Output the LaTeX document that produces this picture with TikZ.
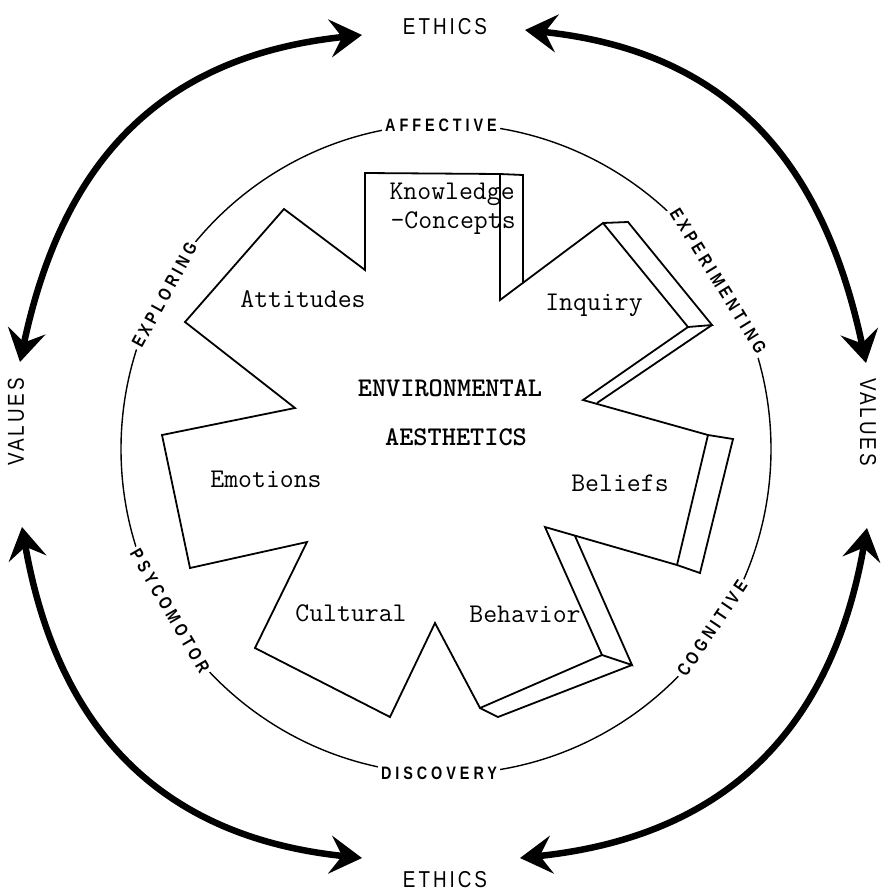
\documentclass[tikz,border=0pt]{standalone}
\usepackage{fontspec}
\newfontfamily\ringfont[FakeStretch=0.8, LetterSpace=22]{Liberation Sans}
\newfontfamily\edgefont[FakeStretch=0.82, LetterSpace=13]{Liberation Sans}
\usetikzlibrary{arrows.meta,calc}

\begin{document}
\begin{tikzpicture}[
    x=1pt, y=-1pt,
    ringlabel/.style={
        fill=white,
        inner sep=3pt,
        font=\fontsize{18}{20}\selectfont\ringfont\bfseries,
        },
    edgelabel/.style={
        font=\fontsize{23}{26}\selectfont\edgefont,
        },
    facet/.style={
        anchor=base,
        font=\fontsize{27}{30}\selectfont\ttfamily,
        },
    centre/.style={
        anchor=base,
        font=\fontsize{27}{30}\selectfont\ttfamily\bfseries,
        },
    bigarrow/.style={
        line width=6.5pt,
        >={Stealth[length=32pt,width=38pt,inset=12pt]},
        <->,
        },
    starline/.style={
        line width=1.8pt,
        line join=miter,
        },
]
\useasboundingbox (0,0) rectangle (881,895);

\coordinate (O) at (446,449);

% outer ring of values and ethics
\node[edgelabel] (ethicsTop) at (445,27) {ETHICS};
\node[edgelabel] (ethicsBot) at (445,880) {ETHICS};
\node[edgelabel, rotate=90] (valuesL) at (16,422) {VALUES};
\node[edgelabel, rotate=-90] (valuesR) at (868,422) {VALUES};

\coordinate (tl1) at (362,35);
\coordinate (tl2) at (20,362);
\coordinate (bl1) at (22,527);
\coordinate (bl2) at (362,858);
\coordinate (tr1) at (525,30);
\coordinate (tr2) at (866,363);
\coordinate (br1) at (867,528);
\coordinate (br2) at (520,858);

\draw[bigarrow] (tl1) to[out=186, in=78, looseness=1.1] (tl2);
\draw[bigarrow] (bl1) to[out=280, in=174, looseness=1.1] (bl2);
\draw[bigarrow] (tr1) to[out=-6, in=102, looseness=1.1] (tr2);
\draw[bigarrow] (br1) to[out=-100, in=6, looseness=1.1] (br2);

% domains circle
\draw[line width=1.4pt] (O) circle[radius=325];

\node[ringlabel] (affective) at (441,125) {AFFECTIVE};
\node[ringlabel] (discovery) at (439,773) {DISCOVERY};
\node[ringlabel, rotate=-58.3] (experimenting) at ($(O)+(-31.7:320)$) {EXPERIMENTING};
\node[ringlabel, rotate=61.3] (exploring) at ($(O)+(-151.3:321)$) {EXPLORING};
\node[ringlabel, rotate=-59.6] (psycomotor) at ($(O)+(149.6:320)$) {PSYCOMOTOR};
\node[ringlabel, rotate=56] (cognitive) at ($(O)+(34:321)$) {COGNITIVE};

% the star
\draw[starline] (365,173) -- (500,174) -- (500,300) -- (603,223) -- (688,327) -- (583,400)
    -- (708,435) -- (677,565) -- (545,527) -- (602,655) -- (480,708) -- (435,623)
    -- (390,717) -- (255,648) -- (307,542) -- (190,568) -- (162,435) -- (295,408)
    -- (185,322) -- (284,209) -- (365,270) -- cycle;
% depth on the right side
\draw[starline] (500,174) -- (523,175) -- (523,283);
\draw[starline] (603,223) -- (628,222) -- (712,325) -- (688,327);
\draw[starline] (712,325) -- (597,403);
\draw[starline] (708,435) -- (733,439) -- (700,573) -- (677,565);
\draw[starline] (575,536) -- (632,665) -- (602,655);
\draw[starline] (632,665) -- (498,717) -- (480,708);

\node[facet, anchor=base west] (knowledge) at (386,199) {Knowledge};
\node[facet, anchor=base west] (concepts) at (387,228) {-Concepts};
\node[facet] (attitudes) at (303,307) {Attitudes};
\node[facet] (inquiry) at (594,310) {Inquiry};
\node[facet] (emotions) at (266,487) {Emotions};
\node[facet] (beliefs) at (620,491) {Beliefs};
\node[facet] (cultural) at (351,621) {Cultural};
\node[facet] (behavior) at (525,622) {Behavior};

\node[centre] (environmental) at (450,396) {ENVIRONMENTAL};
\node[centre] (aesthetics) at (456,445) {AESTHETICS};

\end{tikzpicture}
\end{document}
